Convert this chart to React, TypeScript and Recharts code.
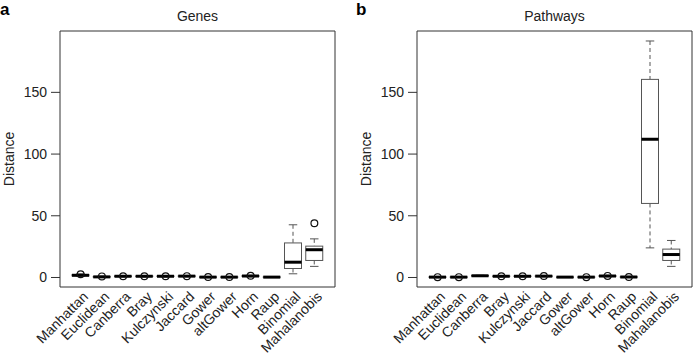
import React from 'react';
import { ComposedChart, Bar, Scatter, XAxis, YAxis } from 'recharts';

const categories = ['Manhattan', 'Euclidean', 'Canberra', 'Bray', 'Kulczynski', 'Jaccard', 'Gower', 'altGower', 'Horn', 'Raup', 'Binomial', 'Mahalanobis'];

const genesMin = [1.0, 0.1, 0.5, 0.5, 0.5, 0.6, 0.0, 0.0, 0.6, 0.1, 3.0, 9.0];
const genesQ1 = [1.3, 0.3, 0.8, 0.8, 0.8, 0.9, 0.1, 0.1, 0.9, 0.2, 7.3, 13.8];
const genesMedian = [1.8, 0.5, 1.0, 1.0, 1.0, 1.1, 0.3, 0.3, 1.2, 0.3, 12.4, 22.5];
const genesQ3 = [2.3, 0.8, 1.2, 1.2, 1.2, 1.3, 0.5, 0.5, 1.5, 0.4, 28.0, 25.4];
const genesMax = [3.0, 1.2, 1.5, 1.5, 1.5, 1.6, 0.7, 0.7, 1.8, 0.6, 42.7, 31.3];
const genesOutlier = [2.6, 0.9, 1.0, 1.0, 1.0, 1.1, 0.4, 0.4, 1.4, null, null, 44.0];

const pathMin = [0.0, 0.0, 1.0, 0.5, 0.5, 0.6, 0.0, 0.0, 0.6, 0.0, 24.0, 9.0];
const pathQ1 = [0.1, 0.1, 1.2, 0.8, 0.8, 0.9, 0.1, 0.1, 0.9, 0.2, 60.0, 13.8];
const pathMedian = [0.3, 0.3, 1.4, 1.0, 1.0, 1.1, 0.3, 0.3, 1.2, 0.4, 112.0, 18.6];
const pathQ3 = [0.5, 0.5, 1.6, 1.2, 1.2, 1.3, 0.4, 0.5, 1.5, 0.6, 160.5, 23.0];
const pathMax = [0.8, 0.8, 1.8, 1.5, 1.5, 1.6, 0.5, 0.8, 1.8, 0.9, 191.6, 30.0];
const pathOutlier = [0.3, 0.3, null, 1.0, 1.0, 1.2, null, 0.3, 1.3, 0.4, null, null];

const yTicks = [0, 50, 100, 150];
const yDomain: [number, number] = [-7.7, 199.7];

const FONT = '"Liberation Sans", Arial, Helvetica, sans-serif';

function buildRows(mn: number[], q1: number[], md: number[], q3: number[], mx: number[], out: (number | null)[]) {
  return categories.map((name, i) => ({
    name,
    range: [mn[i], mx[i]],
    min: mn[i],
    q1: q1[i],
    med: md[i],
    q3: q3[i],
    max: mx[i],
    outlier: out[i],
  }));
}

const genesRows = buildRows(genesMin, genesQ1, genesMedian, genesQ3, genesMax, genesOutlier);
const pathRows = buildRows(pathMin, pathQ1, pathMedian, pathQ3, pathMax, pathOutlier);

const BoxShape = (props: any) => {
  const { x, y, width, height } = props;
  const p = props.payload ?? props;
  const top = Math.min(y, y + height);
  const h = Math.abs(height);
  const span = p.max - p.min;
  const py = (v: number) => (span > 0 ? top + (h * (p.max - v)) / span : top);
  const cx = x + width / 2;
  const capW = width / 2;
  const grey = '#555';
  return (
    <g>
      <line x1={cx} x2={cx} y1={py(p.max)} y2={py(p.q3)} stroke={grey} strokeWidth={1} strokeDasharray="4 3" />
      <line x1={cx} x2={cx} y1={py(p.q1)} y2={py(p.min)} stroke={grey} strokeWidth={1} strokeDasharray="4 3" />
      <line x1={cx - capW / 2} x2={cx + capW / 2} y1={py(p.max)} y2={py(p.max)} stroke={grey} strokeWidth={1} />
      <line x1={cx - capW / 2} x2={cx + capW / 2} y1={py(p.min)} y2={py(p.min)} stroke={grey} strokeWidth={1} />
      <rect x={x} y={py(p.q3)} width={width} height={Math.max(0, py(p.q1) - py(p.q3))} fill="#fff" stroke={grey} strokeWidth={1} />
      <line x1={x} x2={x + width} y1={py(p.med)} y2={py(p.med)} stroke="#000" strokeWidth={3} />
    </g>
  );
};

const OutlierShape = (props: any) => {
  const { cx, cy, payload } = props;
  if (!payload || payload.outlier == null || !isFinite(cy)) return <g />;
  return <circle cx={cx} cy={cy} r={3.4} fill="none" stroke="#111" strokeWidth={1.2} />;
};

const XTick = (props: any) => {
  const { x, y, payload } = props;
  const ax = x + 5;
  const ay = y - 1;
  return (
    <text x={ax} y={ay} transform={`rotate(-45 ${ax} ${ay})`} textAnchor="end" dy="0.35em" fontSize={14} fill="#222" fontFamily={FONT}>
      {payload.value}
    </text>
  );
};

const DistanceLabel = (props: any) => {
  const vb = props.viewBox || {};
  const x = (vb.x ?? 0) + 9;
  const y = (vb.y ?? 0) + (vb.height ?? 0) / 2;
  return (
    <text x={x} y={y} transform={`rotate(-90 ${x} ${y})`} textAnchor="middle" dy="0.35em" fontSize={14} fill="#222" fontFamily={FONT}>
      Distance
    </text>
  );
};

const frame = { stroke: '#333', strokeWidth: 1 };
const xPad = { left: 10, right: 10 };

function Panel({ rows, width, marginRight }: { rows: any[]; width: number; marginRight: number }) {
  return (
    <ComposedChart width={width} height={356} data={rows} margin={{ top: 30, right: marginRight, bottom: 0, left: 0 }}>
      <XAxis
        dataKey="name"
        type="category"
        interval={0}
        height={69}
        padding={xPad}
        axisLine={frame}
        tickLine={false}
        tickSize={6}
        tickMargin={2}
        tick={<XTick />}
      />
      <XAxis xAxisId="top" orientation="top" dataKey="name" type="category" padding={xPad} height={1} tick={false} tickLine={false} axisLine={frame} />
      <YAxis
        type="number"
        domain={yDomain}
        ticks={yTicks}
        allowDataOverflow
        width={60}
        tickSize={9}
        tickMargin={4}
        axisLine={frame}
        tickLine={{ stroke: '#333' }}
        tick={{ fontSize: 14, fill: '#222', fontFamily: FONT }}
        label={<DistanceLabel />}
      />
      <YAxis yAxisId="right" orientation="right" type="number" domain={yDomain} allowDataOverflow width={1} tick={false} tickLine={false} axisLine={frame} />
      <Bar dataKey="range" barSize={17} isAnimationActive={false} shape={<BoxShape />} />
      <Scatter dataKey="outlier" xAxisId="top" yAxisId="right" isAnimationActive={false} shape={<OutlierShape />} />
    </ComposedChart>
  );
}

export default function App() {
  const labelStyle: React.CSSProperties = { position: 'absolute', fontFamily: FONT, fontWeight: 'bold', fontSize: 17, lineHeight: '17px', color: '#000' };
  const titleStyle: React.CSSProperties = { position: 'absolute', fontFamily: FONT, fontSize: 14, lineHeight: '14px', color: '#222', textAlign: 'center' };
  return (
    <div style={{ position: 'absolute', left: 0, top: 0, width: 693, height: 356, background: '#fff' }}>
      <div style={{ position: 'absolute', left: 0, top: 0 }}>
        <Panel rows={genesRows} width={340} marginRight={4} />
      </div>
      <div style={{ position: 'absolute', left: 357, top: 0 }}>
        <Panel rows={pathRows} width={336} marginRight={0} />
      </div>
      <div style={{ ...labelStyle, left: 0, top: 1 }}>a</div>
      <div style={{ ...labelStyle, left: 356, top: 1 }}>b</div>
      <div style={{ ...titleStyle, left: 60, width: 275, top: 9 }}>Genes</div>
      <div style={{ ...titleStyle, left: 417, width: 275, top: 9 }}>Pathways</div>
    </div>
  );
}
